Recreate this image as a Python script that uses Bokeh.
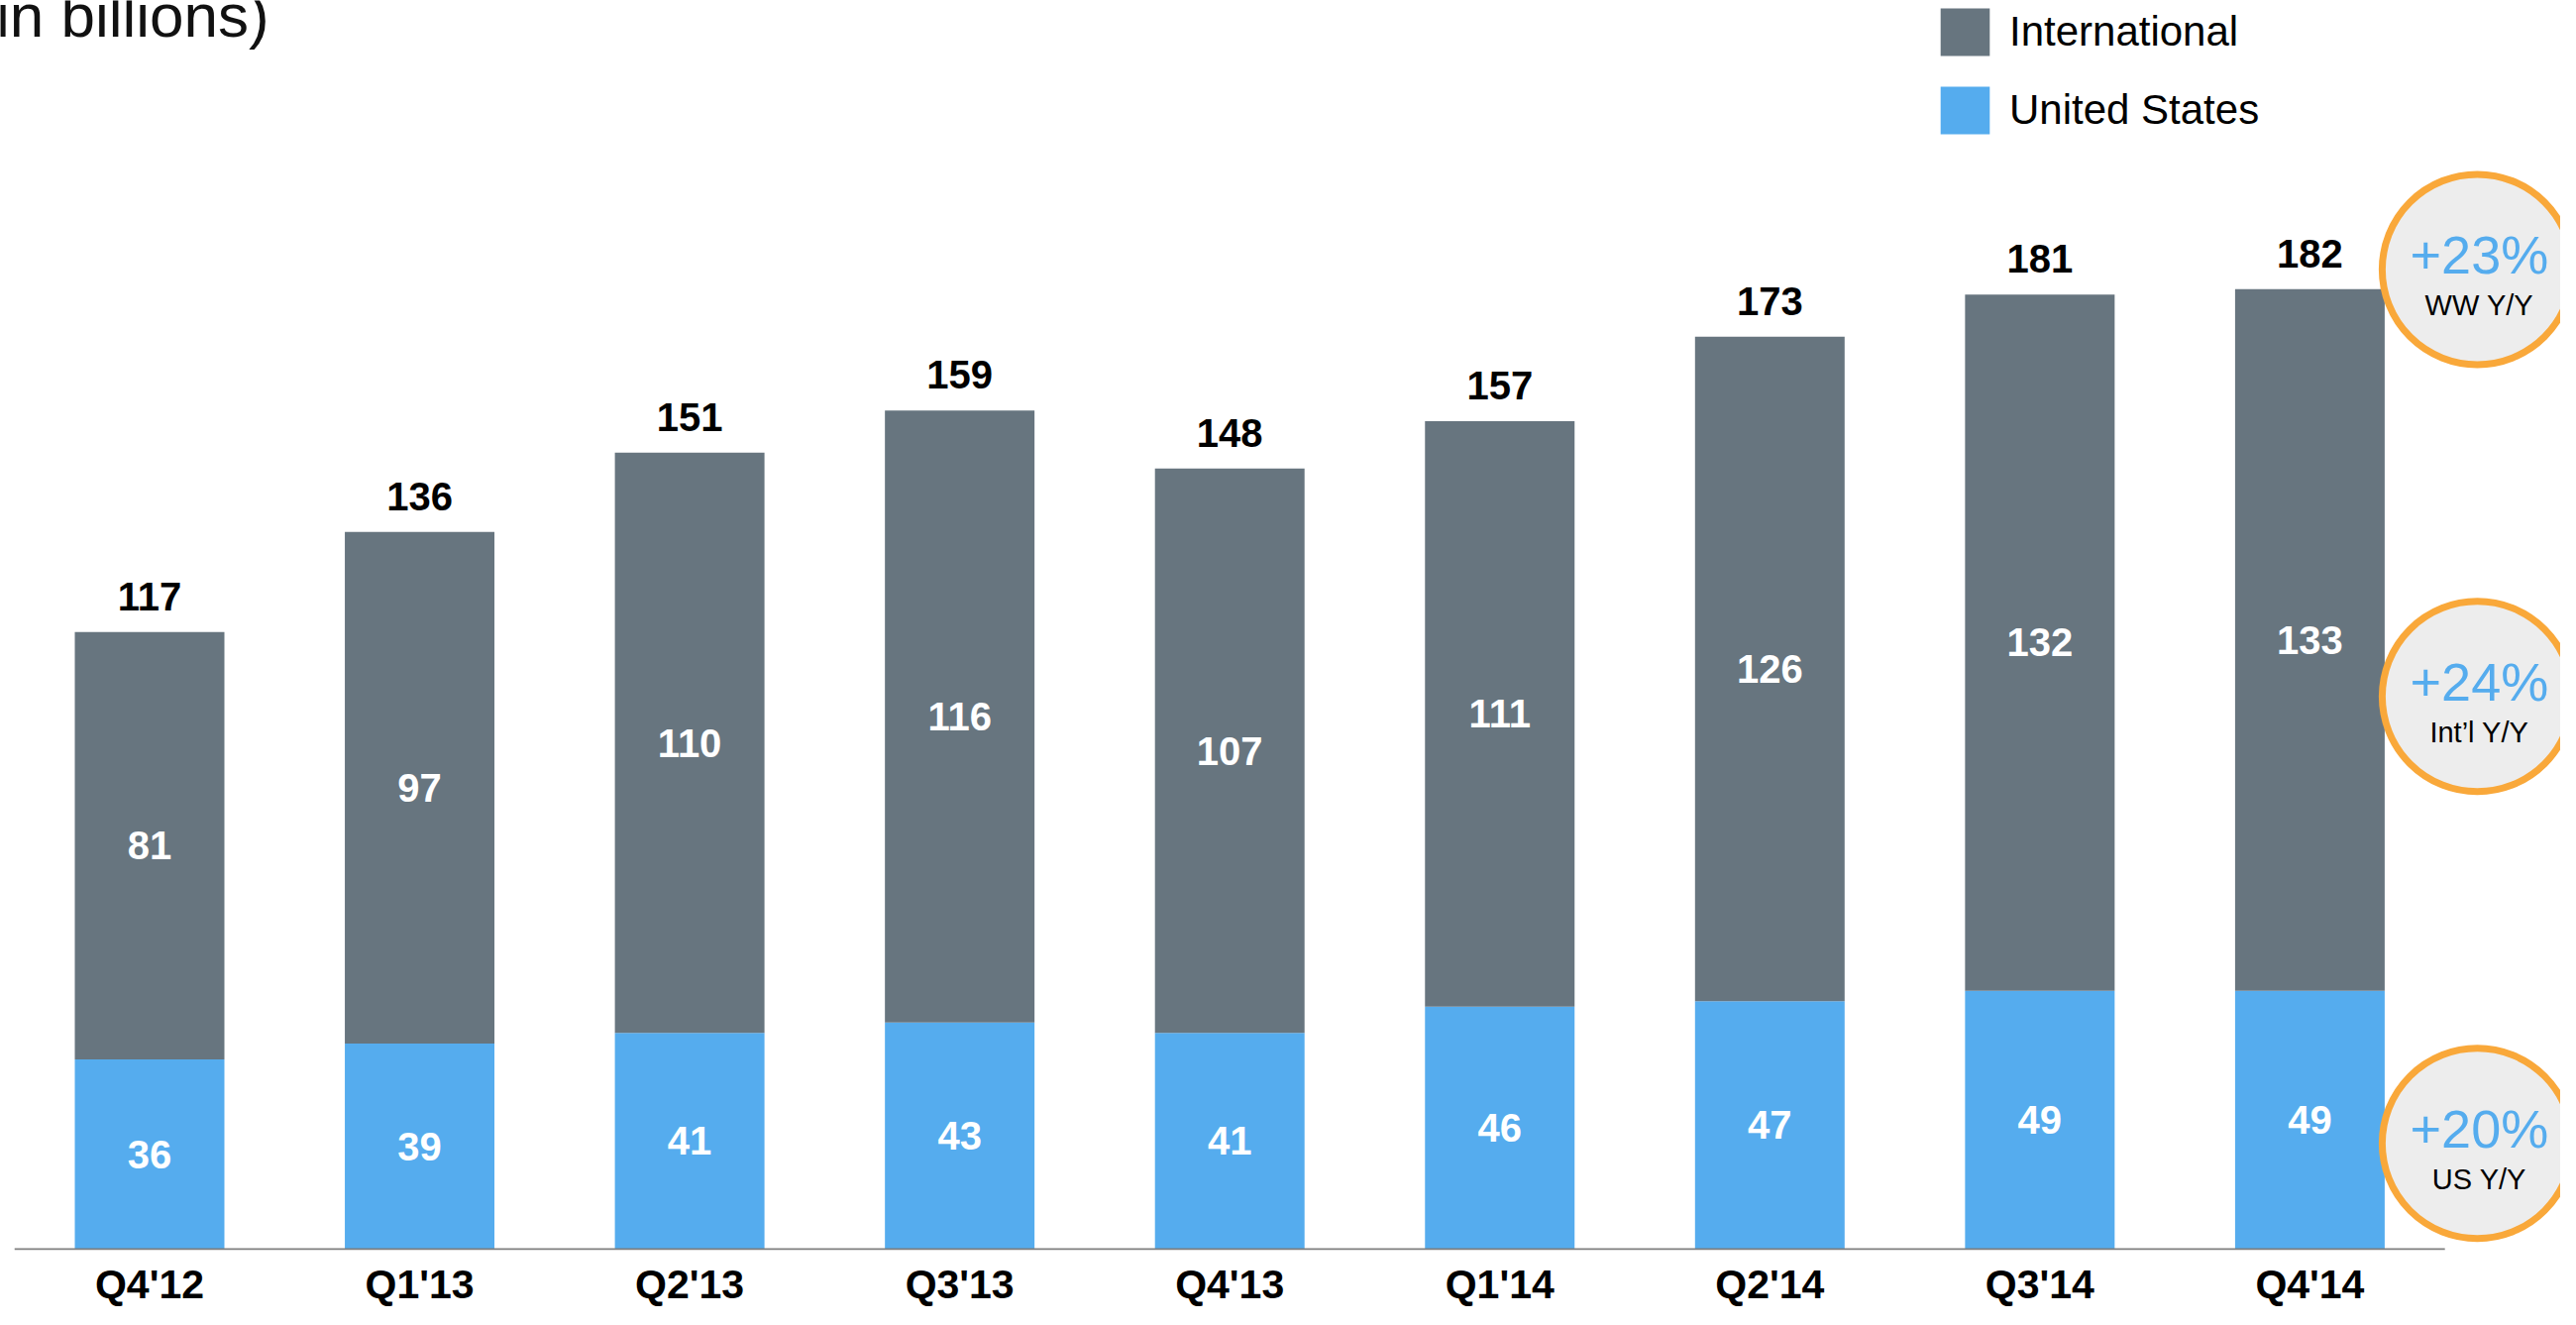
from bokeh.plotting import figure
from bokeh.models import ColumnDataSource, Range1d, FixedTicker, Legend, LegendItem
from bokeh.core.properties import value
from bokeh.embed import file_html
from bokeh.resources import INLINE

# ---- data ----
quarters = ["Q4'12", "Q1'13", "Q2'13", "Q3'13", "Q4'13", "Q1'14", "Q2'14", "Q3'14", "Q4'14"]
us = [36, 39, 41, 43, 41, 46, 47, 49, 49]
intl = [81, 97, 110, 116, 107, 111, 126, 132, 133]
totals = [117, 136, 151, 159, 148, 157, 173, 181, 182]
growth_values = ["+23%", "+24%", "+20%"]
growth_labels = ["WW Y/Y", "Int\u2019l Y/Y", "US Y/Y"]
title_text = "in billions)"

# ---- styles ----
INTL_C = "#67757F"
US_C = "#55ACEE"
RING_C = "#F9A83A"
RING_FILL = "#EDEDED"
FONT = "Liberation Sans"

W, H = 2584, 1321
p = figure(width=W, height=H, output_backend="svg", toolbar_location=None,
           x_range=Range1d(-0.5522, 8.9286), y_range=Range1d(-0.1874, 236.74),
           y_axis_location=None,
           min_border_left=0, min_border_right=0, min_border_top=0, min_border_bottom=57)
p.grid.visible = False
p.outline_line_color = None
p.background_fill_color = "white"
p.border_fill_color = "white"

xs = list(range(len(quarters)))
src = ColumnDataSource(dict(
    x=xs,
    us=us,
    intl=intl,
    top=[u + i for u, i in zip(us, intl)],
    total=totals,
    us_mid=[u / 2 for u in us],
    intl_mid=[u + i / 2 for u, i in zip(us, intl)],
    us_lbl=[str(v) for v in us],
    intl_lbl=[str(v) for v in intl],
    total_lbl=[str(v) for v in totals],
))

BW = 0.554
r_us = p.vbar(x="x", bottom=0, top="us", width=BW, fill_color=US_C, line_color=None, source=src)
r_in = p.vbar(x="x", bottom="us", top="top", width=BW, fill_color=INTL_C, line_color=None, source=src)

# baseline (axis line)
p.segment(x0=[-0.5], y0=[0], x1=[len(quarters) - 0.5], y1=[0], line_color="#7F7F7F", line_width=2)

# labels
p.text(x="x", y="total", text="total_lbl", source=src, text_align="center",
       text_baseline="middle", y_offset=-36, text_font=value(FONT),
       text_font_style=value("bold"), text_font_size=value("40px"), text_color="black")
p.text(x="x", y="intl_mid", text="intl_lbl", source=src, text_align="center",
       text_baseline="middle", text_font=value(FONT),
       text_font_style=value("bold"), text_font_size=value("40px"), text_color="white")
p.text(x="x", y="us_mid", text="us_lbl", source=src, text_align="center",
       text_baseline="middle", text_font=value(FONT),
       text_font_style=value("bold"), text_font_size=value("40px"), text_color="white")

# growth circles
cx = [8.62, 8.62, 8.62]
cy = [185.75, 104.78, 20.06]
p.scatter(x=cx, y=cy, marker="circle", size=192, fill_color=RING_FILL,
          line_color=RING_C, line_width=7)
p.text(x=cx, y=cy, text=growth_values, text_align="center", text_baseline="middle",
       x_offset=2, y_offset=-15, text_font=value(FONT), text_font_size=value("54px"),
       text_color=US_C)
p.text(x=cx, y=cy, text=growth_labels, text_align="center", text_baseline="middle",
       x_offset=2, y_offset=36, text_font=value(FONT), text_font_size=value("29px"),
       text_color="black")

# title fragment (cut at the top edge, as in the source slide)
p.text(x=[-0.569], y=[233.9], text=[title_text], text_align="left", text_baseline="middle",
       text_font=value(FONT), text_font_size=value("62px"), text_color="#111111")

# x axis
p.xaxis.ticker = FixedTicker(ticks=xs)
p.xaxis.major_label_overrides = {i: q for i, q in enumerate(quarters)}
p.xaxis.axis_line_color = None
p.xaxis.major_tick_line_color = None
p.xaxis.minor_tick_line_color = None
p.xaxis.major_tick_out = 0
p.xaxis.major_tick_in = 0
p.xaxis.major_label_standoff = 11
p.xaxis.major_label_text_font = FONT
p.xaxis.major_label_text_font_style = "bold"
p.xaxis.major_label_text_font_size = "41px"
p.xaxis.major_label_text_color = "black"

legend = Legend(items=[LegendItem(label="International", renderers=[r_in]),
                       LegendItem(label="United States", renderers=[r_us])],
                location=(1952, 1120), orientation="vertical",
                glyph_width=62, glyph_height=60, spacing=19, padding=0, margin=0,
                label_standoff=14, label_height=60,
                label_text_font=FONT, label_text_font_size="42px", label_text_color="black",
                border_line_color=None, background_fill_alpha=0)
p.add_layout(legend)

open("out.html", "w").write(file_html(p, INLINE))
